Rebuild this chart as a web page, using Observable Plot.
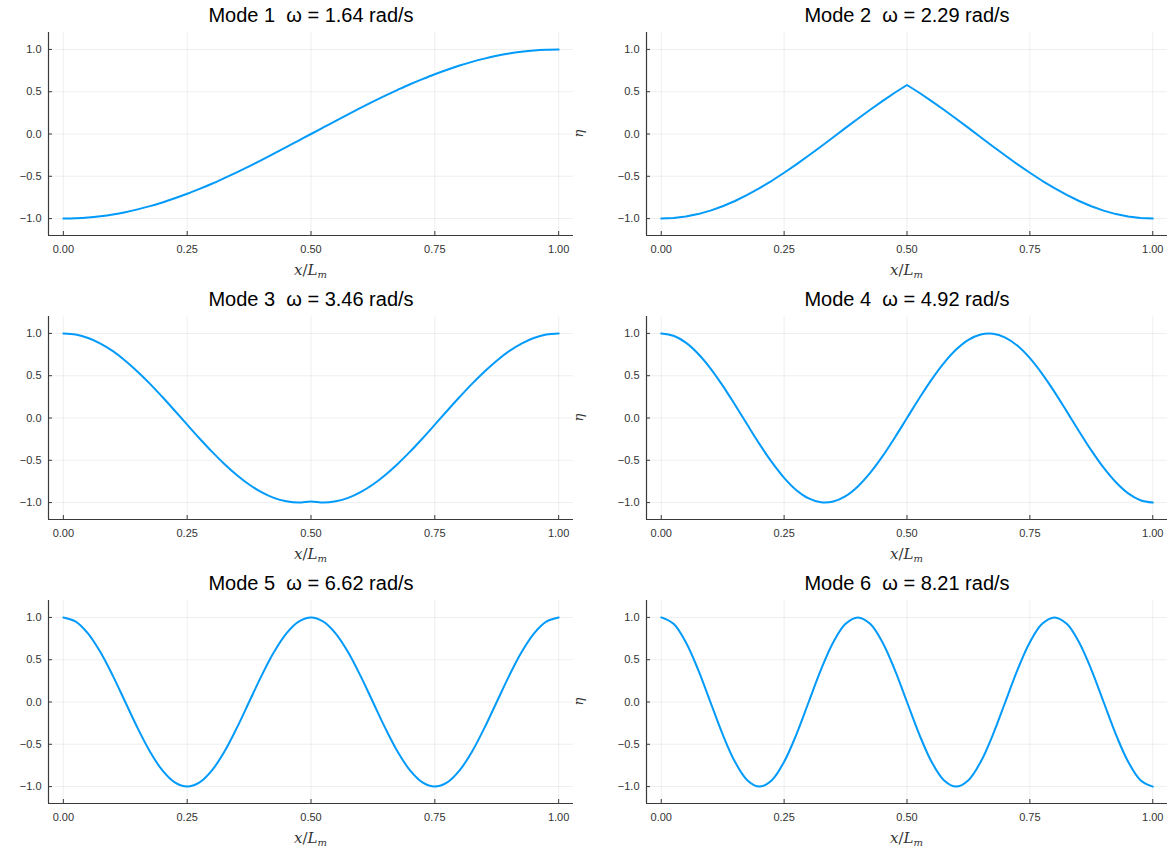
<!DOCTYPE html>
<html>
<head>
<meta charset="utf-8">
<script src="https://cdn.jsdelivr.net/npm/d3@7"></script>
<script src="https://cdn.jsdelivr.net/npm/@observablehq/plot@0.6"></script>
<style>
  html, body { margin: 0; padding: 0; background: #ffffff; }
  #grid { position: relative; width: 1171px; height: 848px; background: #ffffff; overflow: hidden; }
  .panel { position: absolute; }
</style>
</head>
<body>
<div id="grid"></div>
<script>
// Normalised position along the member, x / L_m
const xGrid = [0, 0.025, 0.05, 0.075, 0.1, 0.125, 0.15, 0.175, 0.2, 0.225,
  0.25, 0.275, 0.3, 0.325, 0.35, 0.375, 0.4, 0.425, 0.45, 0.475,
  0.5, 0.525, 0.55, 0.575, 0.6, 0.625, 0.65, 0.675, 0.7, 0.725,
  0.75, 0.775, 0.8, 0.825, 0.85, 0.875, 0.9, 0.925, 0.95, 0.975, 1];

// Normalised mode shapes η sampled on xGrid
const mode1 = [-1, -0.997, -0.988, -0.972, -0.951, -0.924, -0.891, -0.853, -0.809, -0.760,
  -0.707, -0.649, -0.588, -0.522, -0.454, -0.383, -0.309, -0.233, -0.156, -0.078,
  0, 0.078, 0.156, 0.233, 0.309, 0.383, 0.454, 0.522, 0.588, 0.649,
  0.707, 0.760, 0.809, 0.853, 0.891, 0.924, 0.951, 0.972, 0.988, 0.997, 1];
const mode2 = [-1, -0.994, -0.976, -0.947, -0.906, -0.854, -0.792, -0.720, -0.640, -0.553,
  -0.458, -0.359, -0.254, -0.147, -0.038, 0.072, 0.180, 0.287, 0.389, 0.488,
  0.579, 0.488, 0.389, 0.287, 0.180, 0.072, -0.038, -0.147, -0.254, -0.359,
  -0.458, -0.553, -0.640, -0.720, -0.792, -0.854, -0.906, -0.947, -0.976, -0.994, -1];
const mode3 = [1, 0.986, 0.946, 0.880, 0.790, 0.678, 0.548, 0.404, 0.248, 0.086,
  -0.079, -0.242, -0.398, -0.543, -0.673, -0.786, -0.877, -0.945, -0.985, -1.000,
  -0.987, -1.000, -0.985, -0.945, -0.877, -0.786, -0.673, -0.543, -0.398, -0.242,
  -0.079, 0.086, 0.248, 0.404, 0.548, 0.678, 0.790, 0.880, 0.946, 0.986, 1];
const mode4 = [1, 0.972, 0.891, 0.760, 0.588, 0.383, 0.156, -0.078, -0.309, -0.522,
  -0.707, -0.853, -0.951, -0.997, -0.988, -0.924, -0.809, -0.649, -0.454, -0.233,
  0, 0.233, 0.454, 0.649, 0.809, 0.924, 0.988, 0.997, 0.951, 0.853,
  0.707, 0.522, 0.309, 0.078, -0.156, -0.383, -0.588, -0.760, -0.891, -0.972, -1];
const mode5 = [1, 0.951, 0.809, 0.588, 0.309, 0, -0.309, -0.588, -0.809, -0.951,
  -1, -0.951, -0.809, -0.588, -0.309, 0, 0.309, 0.588, 0.809, 0.951,
  1, 0.951, 0.809, 0.588, 0.309, 0, -0.309, -0.588, -0.809, -0.951,
  -1, -0.951, -0.809, -0.588, -0.309, 0, 0.309, 0.588, 0.809, 0.951, 1];
const mode6 = [1, 0.924, 0.707, 0.383, 0, -0.383, -0.707, -0.924, -1, -0.924,
  -0.707, -0.383, 0, 0.383, 0.707, 0.924, 1, 0.924, 0.707, 0.383,
  0, -0.383, -0.707, -0.924, -1, -0.924, -0.707, -0.383, 0, 0.383,
  0.707, 0.924, 1, 0.924, 0.707, 0.383, 0, -0.383, -0.707, -0.924, -1];

const modeShapes = [mode1, mode2, mode3, mode4, mode5, mode6];
const modeNumbers = [1, 2, 3, 4, 5, 6];
const omegas = [1.64, 2.29, 3.46, 4.92, 6.62, 8.21];   // rad/s

const xTicks = [0, 0.25, 0.5, 0.75, 1];
const yTicks = [-1, -0.5, 0, 0.5, 1];
const xDomain = [-0.03, 1.03];
const yDomain = [-1.2, 1.2];

const lineColor = "#009AFA";
const axisColor = "#3a3a3a";
const rowHeight = 284;
const font = "'Liberation Sans', Arial, sans-serif";
const mathFont = "'DejaVu Serif', 'Liberation Serif', serif";

const container = document.getElementById("grid");

modeShapes.forEach((shape, i) => {
  const col = i % 2;
  const row = Math.floor(i / 2);
  const isLeft = col === 0;
  const width = isLeft ? 573 : 608;
  const marginLeft = isLeft ? 48 : 83;
  const marginRight = isLeft ? 0 : 4;
  const marginTop = 32;
  const marginBottom = 49;
  const frameW = width - marginLeft - marginRight;
  const frameH = rowHeight - marginTop - marginBottom;

  const data = xGrid.map((x, j) => ({x, eta: shape[j]}));
  const title = `Mode ${modeNumbers[i]}  ω = ${omegas[i].toFixed(2)} rad/s`;
  // mode 2 has a kink at mid-span, so it is joined with straight segments
  const curve = modeNumbers[i] === 2 ? "linear" : "catmull-rom";

  const svg = Plot.plot({
    width,
    height: rowHeight,
    marginTop, marginBottom, marginLeft, marginRight,
    style: {background: "transparent", fontFamily: font, fontSize: "11px", color: "#333"},
    x: {domain: xDomain},
    y: {domain: yDomain},
    marks: [
      Plot.gridX(xTicks, {strokeOpacity: 0.08}),
      Plot.gridY(yTicks, {strokeOpacity: 0.08}),
      Plot.axisX(xTicks, {tickSize: 0, tickPadding: 10, tickFormat: d3.format(".2f"), label: null}),
      Plot.axisY(yTicks, {tickSize: 0, tickPadding: 7, tickFormat: d3.format(".1f"), label: null}),
      // short inward ticks
      Plot.tickX(xTicks, {x: d => d, insetTop: frameH - 4, stroke: axisColor}),
      Plot.tickY(yTicks, {y: d => d, insetRight: frameW - 4, stroke: axisColor}),
      // left and bottom spines
      Plot.ruleX([xDomain[0]], {stroke: axisColor, strokeWidth: 1.2}),
      Plot.ruleY([yDomain[0]], {stroke: axisColor, strokeWidth: 1.2}),
      Plot.line(data, {x: "x", y: "eta", stroke: lineColor, strokeWidth: 2, curve}),
      Plot.text([title], {frameAnchor: "top", lineAnchor: "middle", dy: -17, fontSize: 20, fill: "#000", fontFamily: font})
    ]
  });

  const cx = marginLeft + frameW / 2;
  const frameBottom = rowHeight - marginBottom;
  const sel = d3.select(svg);

  // x-axis label: x / L_m in math style
  const xl = sel.append("text")
    .attr("x", cx)
    .attr("y", frameBottom + 40)
    .attr("text-anchor", "middle")
    .attr("font-family", mathFont)
    .attr("font-size", 15)
    .attr("fill", "#333");
  xl.append("tspan").attr("font-style", "italic").text("x");
  xl.append("tspan").text("/");
  xl.append("tspan").attr("font-style", "italic").text("L");
  xl.append("tspan").attr("font-style", "italic").attr("font-size", 10).attr("dy", 3).text("m");

  // y-axis label η on the right-hand column
  if (!isLeft) {
    const cy = marginTop + frameH / 2;
    sel.append("text")
      .attr("transform", `translate(20,${cy}) rotate(-90)`)
      .attr("text-anchor", "middle")
      .attr("font-family", mathFont)
      .attr("font-style", "italic")
      .attr("font-size", 13)
      .attr("fill", "#333")
      .text("η");
  }

  const div = document.createElement("div");
  div.className = "panel";
  div.style.left = (isLeft ? 0 : 563) + "px";
  div.style.top = (row * rowHeight) + "px";
  div.appendChild(svg);
  container.appendChild(div);
});
</script>
</body>
</html>
